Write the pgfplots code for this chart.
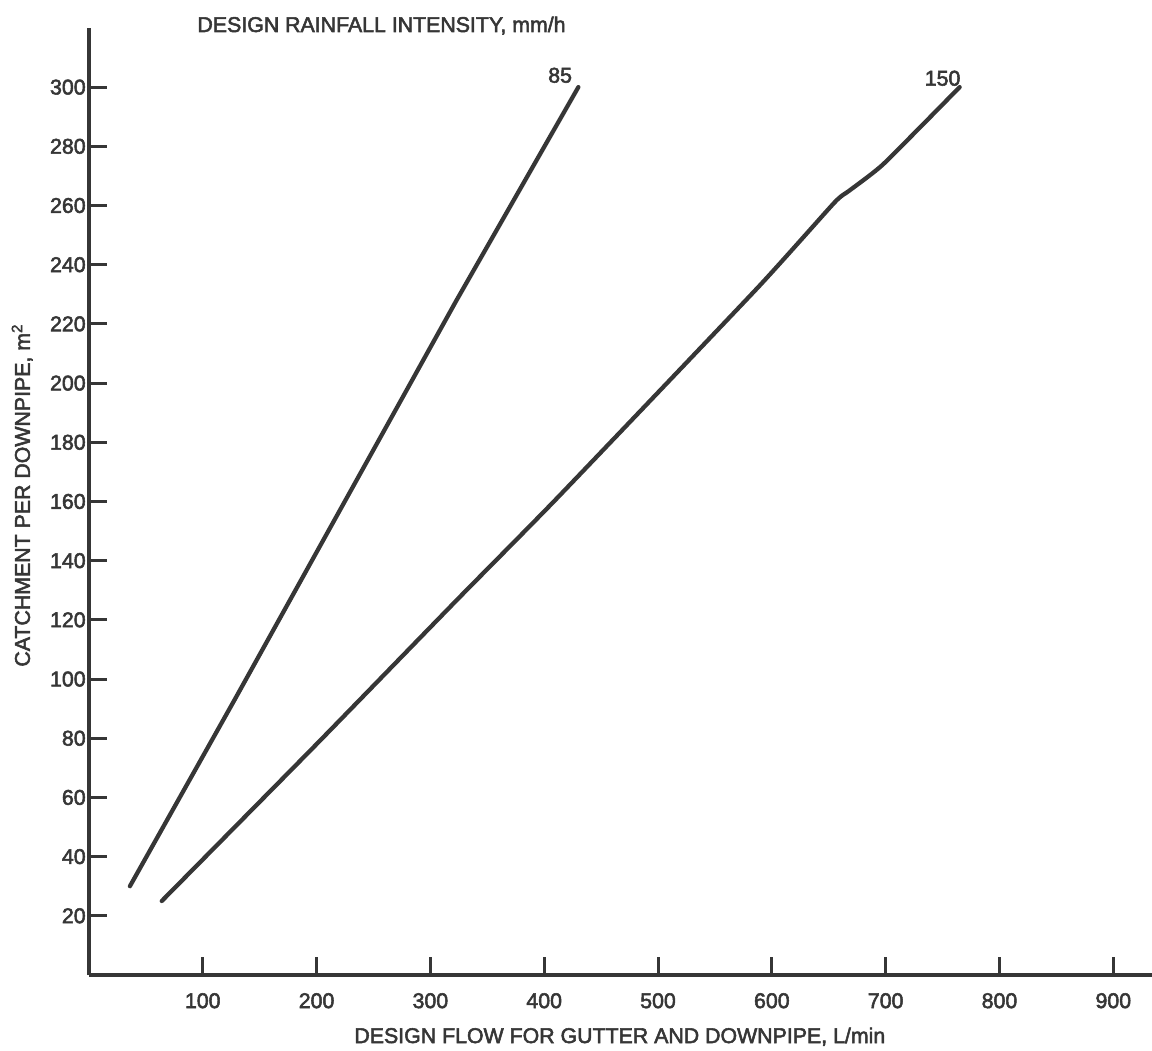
\documentclass[border=0pt]{standalone}
\usepackage{fontspec}
\setmainfont[BoldFont={Liberation Sans}, BoldFeatures={FakeBold=2.5}]{Liberation Sans}
\usepackage{pgfplots}
\pgfplotsset{compat=1.18}
\definecolor{ink}{HTML}{363636}
\begin{document}
\fontsize{10}{12}\selectfont\bfseries
\begin{tikzpicture}[font=\fontsize{10}{12}\selectfont\bfseries]
\begin{axis}[
  scale only axis,
  width=498.5pt, height=444.1pt,
  xmin=0, xmax=934, ymin=0, ymax=320,
  axis lines*=left,
  axis line style={ink, line width=1.8pt},
  tick align=inside,
  major tick length=8.4pt,
  tick style={ink, line width=1.4pt},
  xtick={100,200,...,900},
  ytick={20,40,...,300},
  /pgf/number format/assume math mode=true,
  ticklabel style={font=\fontsize{10}{12}\selectfont\bfseries, text=ink},
  xticklabel style={yshift=-5pt},
  yticklabel style={xshift=2pt},
  clip=false,
]
\addplot[ink, line width=2pt, line join=round, line cap=round] coordinates {
 (36,30) (128,93) (323,228) (430,300)
};
\addplot[ink, line width=2pt, line join=round, line cap=round, smooth, tension=0.3] coordinates {
 (64,25) (200,78) (324,127) (411,161) (587,232) (655,261) (668,265) (698,274) (765,300)
};
\node[text=ink] at (axis cs:414,304) {85};
\node[text=ink] at (axis cs:750,303) {150};
\end{axis}
\node[anchor=base west, text=ink, inner sep=0pt] at ([xshift=50.7pt,yshift=-1.9pt]current axis.north west) {DESIGN RAINFALL INTENSITY, mm/h};
\node[anchor=base west, text=ink, inner sep=0pt] at ([xshift=124.3pt,yshift=-31.9pt]current axis.south west) {DESIGN FLOW FOR GUTTER AND DOWNPIPE, L/min};
\node[rotate=90, anchor=base, text=ink, inner sep=0pt] at ([xshift=-27.7pt,yshift=3pt]current axis.west) {CATCHMENT PER DOWNPIPE, m\textsuperscript{2}};
\pgfresetboundingbox
\path[use as bounding box] ([shift={(-41.7pt,-35.6pt)}]current axis.south west) rectangle ([shift={(0pt,13.1pt)}]current axis.north east);
\end{tikzpicture}
\end{document}
